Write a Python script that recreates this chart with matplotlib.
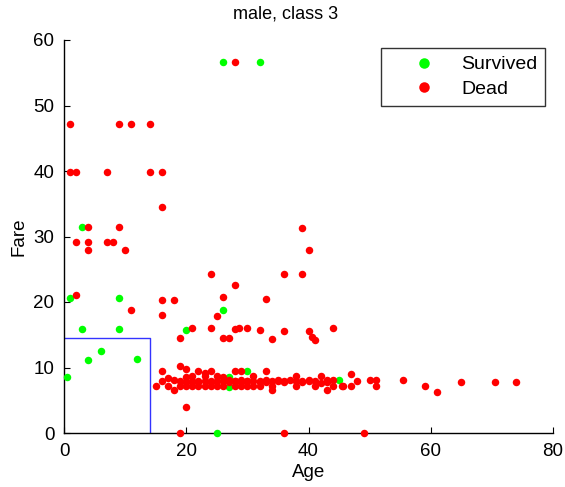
import matplotlib
matplotlib.use("Agg")
import matplotlib.pyplot as plt

plt.rcParams['font.family'] = ['Liberation Sans', 'DejaVu Sans']

# Survived passengers (age, fare)
surv_age = [26, 32, 3, 1, 9, 3, 9, 6, 4, 12, 0.5, 20, 26, 27, 27, 30, 45, 25]
surv_fare = [56.7, 56.7, 31.5, 20.6, 20.6, 15.9, 15.9, 12.5, 11.1, 11.3, 8.5, 15.8, 18.8, 8.6, 7.0, 9.5, 8.1, 0.0]

# Dead passengers (age, fare)
dead_age = [
    28, 1, 9, 11, 14, 1, 2, 7, 14, 16, 16, 4, 9,
    39, 40, 24, 36, 39, 2, 4, 7, 8, 4, 10, 2, 11, 16, 18, 16,
    19, 21, 24, 25, 26, 28, 26, 27, 28, 28.6, 30, 32, 33,
    34, 36, 40, 40.5, 41, 44, 19, 36, 49, 20,
    47, 47, 45.6, 48, 50, 51, 51, 55.5, 59, 61, 65, 70.5, 74,
    15, 16, 16, 17, 17, 18, 18, 19, 19, 19,
    20, 20, 20, 20, 21, 21, 21, 22, 22, 22, 22,
    23, 23, 23, 23, 24, 24, 24, 24, 25, 25, 25,
    26, 26, 26, 27, 27, 28, 28, 28, 28, 29, 29, 29, 29,
    30, 30, 30, 31, 31, 31, 32, 32, 32, 33, 33, 33,
    34, 34, 34, 35, 35, 36, 36, 37, 38, 38, 38, 39, 39,
    40, 40, 41, 41, 42, 42, 43, 43, 43, 44, 44, 45.5,
]
dead_fare = [
    56.7, 47.1, 47.1, 47.1, 47.1, 39.8, 39.8, 39.8, 39.8, 39.8, 34.5, 31.4, 31.5,
    31.3, 28.0, 24.2, 24.2, 24.2, 29.2, 29.2, 29.2, 29.2, 28.0, 28.0, 21.1, 18.8, 20.3, 20.3, 18.0,
    14.5, 16.1, 16.1, 17.8, 20.7, 22.6, 14.5, 14.5, 15.9, 16.1, 16.1, 15.8, 20.5,
    14.4, 15.6, 15.6, 14.6, 14.2, 16.1, 0.0, 0.0, 0.0, 4.0,
    9.0, 7.2, 7.2, 7.9, 8.1, 8.1, 7.1, 8.1, 7.2, 6.3, 7.8, 7.8, 7.8,
    7.2, 9.5, 8.0, 8.4, 7.2, 8.1, 6.5, 10.2, 8.0, 7.2,
    9.7, 8.6, 7.8, 7.1, 8.7, 7.9, 7.2, 9.4, 8.0, 7.8, 7.2,
    9.2, 8.7, 7.9, 7.2, 9.5, 8.0, 7.8, 7.2, 8.7, 7.9, 7.2,
    8.6, 7.9, 7.2, 8.1, 7.8, 9.5, 8.0, 7.2, 7.9, 9.5, 8.1, 7.2, 7.8,
    8.0, 7.9, 7.2, 8.7, 7.9, 7.2, 8.0, 7.8, 7.2, 9.5, 8.1, 7.8,
    8.0, 7.2, 6.6, 8.1, 7.9, 8.0, 7.8, 8.1, 8.7, 7.9, 7.1, 8.0, 7.8,
    8.1, 7.9, 8.0, 7.1, 8.7, 7.6, 8.1, 7.8, 6.6, 8.1, 7.2, 7.1,
]

# Decision boundary
bound_age = [0, 14, 14]
bound_fare = [14.5, 14.5, 0]

fig = plt.figure(figsize=(5.65, 4.87), dpi=100)
ax = fig.add_axes([64 / 565, 54 / 487, 489 / 565, 393 / 487])

ax.plot(surv_age, surv_fare, 'o', color=(0, 1, 0), markersize=5.4,
        markeredgewidth=0, label='Survived', clip_on=False, zorder=3)
ax.plot(dead_age, dead_fare, 'o', color=(1, 0, 0), markersize=5.4,
        markeredgewidth=0, label='Dead', clip_on=False, zorder=3)
ax.plot(bound_age, bound_fare, '-', color=(0.2, 0.2, 1.0), linewidth=1.0, zorder=2)

ax.set_xlim(0, 80)
ax.set_ylim(0, 60)
ax.set_xticks([0, 20, 40, 60, 80])
ax.set_yticks([0, 10, 20, 30, 40, 50, 60])
ax.spines['top'].set_visible(False)
ax.spines['right'].set_visible(False)
for s in ['left', 'bottom']:
    ax.spines[s].set_linewidth(1.0)
ax.tick_params(direction='in', length=4, width=0.8, labelsize=13.5)
ax.tick_params(axis='x', pad=7)
ax.tick_params(axis='y', pad=7)

ax.set_xlabel('Age', fontsize=13.5, labelpad=3)
ax.set_ylabel('Fare', fontsize=13.5, labelpad=4)
fig.text(286 / 565, 1 - 14 / 487, 'male, class 3', ha='center', va='center', fontsize=13)

leg = ax.legend(loc='upper right', bbox_to_anchor=(545 / 565, 1 - 48 / 487),
                bbox_transform=fig.transFigure, fontsize=14, frameon=True,
                fancybox=False, edgecolor='black', handlelength=3.6,
                handletextpad=0.1, borderpad=0.4, labelspacing=0.35,
                markerscale=1.4, borderaxespad=0)
leg.get_frame().set_linewidth(1.0)

fig.savefig('out.png', dpi=100)
